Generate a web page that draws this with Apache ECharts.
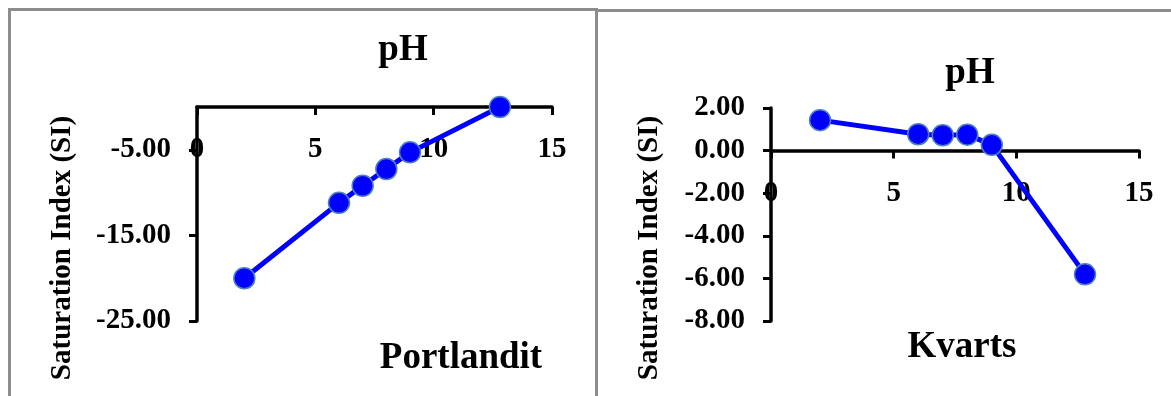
<!DOCTYPE html>
<html>
<head>
<meta charset="utf-8">
<script src="https://cdn.jsdelivr.net/npm/echarts@6.0.0/dist/echarts.min.js"></script>
<style>
  html, body { margin: 0; padding: 0; background: #fff; overflow: hidden; }
  #wrap { position: relative; width: 1171px; height: 396px; overflow: hidden; }
  .panel { position: absolute; box-sizing: border-box; border: 3px solid #8c8c8c; background: transparent; }
  #chart { position: absolute; left: 0; top: 0; width: 1171px; height: 396px; }
</style>
</head>
<body>
<div id="wrap">
  <div class="panel" style="left:8px; top:8px; width:590px; height:500px;"></div>
  <div class="panel" style="left:595px; top:9px; width:700px; height:500px;"></div>
  <div id="chart"></div>
</div>
<script>
// ---- data ----
const phValues = [2, 6, 7, 8, 9, 12.8];
const portlanditSI = [-20.0, -11.2, -9.2, -7.25, -5.3, 0.0];
const kvartsSI = [1.43, 0.77, 0.72, 0.75, 0.27, -5.81];
const xTickValues = [0, 5, 10, 15];
const portlanditYTicks = [-25, -15, -5];
const kvartsYTicks = [-8, -6, -4, -2, 0, 2];
const xAxisTitle = 'pH';
const yAxisTitle = 'Saturation Index (SI)';
const panelTitles = ['Portlandit', 'Kvarts'];

const FONT = '"Liberation Serif", "Times New Roman", serif';
const pairs = (xs, ys) => xs.map((x, i) => [x, ys[i]]);

const grids = [
  { left: 197, top: 107, width: 355, height: 214 },
  { left: 771, top: 108, width: 368, height: 213 }
];
const yRanges = [[-25, 0], [-8, 2]];

const axisLineStyle = { color: '#000', width: 3.5 };

// x axis crosses the y axis at SI = 0: shift the bottom axis up by the
// distance that the y scale puts between its minimum and zero
function xAxisCfg(gi) {
  const [ymin, ymax] = yRanges[gi];
  const shift = grids[gi].height * (0 - ymin) / (ymax - ymin);
  return {
    type: 'value', gridIndex: gi,
    min: 0, max: 15, interval: 5,
    position: 'bottom', offset: -shift,
    axisLine: { show: true, onZero: false, lineStyle: axisLineStyle },
    axisTick: { show: true, length: 8, lineStyle: { color: '#000', width: 3 } },
    axisLabel: { margin: 28, fontFamily: FONT, fontWeight: 'bold', fontSize: 29, color: '#000',
                 customValues: xTickValues },
    splitLine: { show: false }
  };
}
function yAxisCfg(gi, ticks) {
  return {
    type: 'value', gridIndex: gi, min: yRanges[gi][0], max: yRanges[gi][1],
    axisLine: { show: true, onZero: false, lineStyle: axisLineStyle },
    axisTick: { show: true, length: 8, lineStyle: { color: '#000', width: 3 }, customValues: ticks },
    axisLabel: { margin: 26, fontFamily: FONT, fontWeight: 'bold', fontSize: 29, color: '#000',
                 customValues: ticks, formatter: v => Number(v).toFixed(2) },
    splitLine: { show: false }
  };
}
function seriesCfg(idx, ys) {
  return {
    type: 'line', xAxisIndex: idx, yAxisIndex: idx,
    data: pairs(phValues, ys),
    symbol: 'circle', symbolSize: 21,
    lineStyle: { color: '#0000ff', width: 5 },
    itemStyle: { color: '#0000ff', borderColor: '#4f81bd', borderWidth: 1.5 },
    z: 5
  };
}
function txt(x, y, text, size, rot) {
  return {
    type: 'text', x: x, y: y, rotation: rot || 0, z: 10,
    style: { text: text, font: 'bold ' + size + 'px ' + FONT, fill: '#000',
             textAlign: 'center', textVerticalAlign: 'middle' }
  };
}

const chart = echarts.init(document.getElementById('chart'), null, { renderer: 'canvas' });
chart.setOption({
  animation: false,
  backgroundColor: 'transparent',
  grid: grids.map(g => Object.assign({ containLabel: false }, g)),
  xAxis: [xAxisCfg(0), xAxisCfg(1)],
  yAxis: [yAxisCfg(0, portlanditYTicks), yAxisCfg(1, kvartsYTicks)],
  series: [seriesCfg(0, portlanditSI), seriesCfg(1, kvartsSI)],
  graphic: [
    txt(403, 50, xAxisTitle, 37),
    txt(970, 73, xAxisTitle, 37),
    txt(461, 358, panelTitles[0], 37),
    txt(962, 347, panelTitles[1], 37),
    txt(63, 248, yAxisTitle, 29, Math.PI / 2),
    txt(650, 248, yAxisTitle, 29, Math.PI / 2)
  ]
});
</script>
</body>
</html>
